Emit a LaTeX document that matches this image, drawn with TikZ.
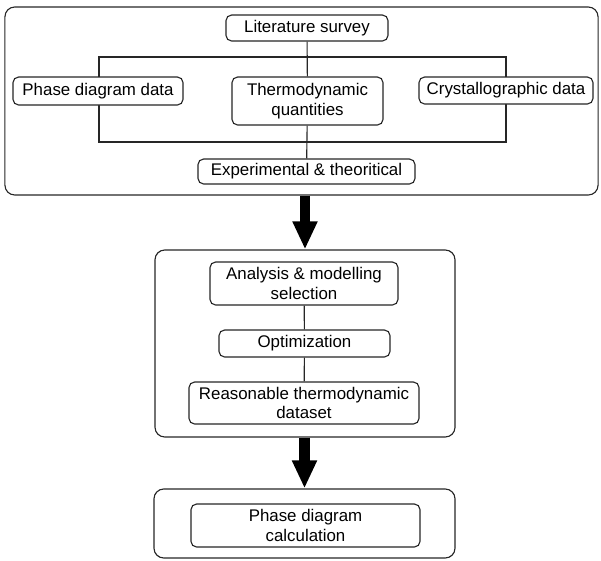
\documentclass[tikz,border=0pt]{standalone}
\usepackage{fontspec}
\setmainfont{Liberation Sans}
\usetikzlibrary{
    arrows.meta,
    shapes,
    positioning,
    calc
}
\tikzset{%
    % Specifications for style of nodes:
    base/.style = {
        rectangle, rounded corners=4pt, draw=black!85, line width=0.8pt,
        text centered, font=\fontsize{12}{14}\selectfont,
        fill=white, align=center, inner sep=1.5pt
    },
    frame/.style = {base, rounded corners=7pt, fill=none},
    link/.style = {draw=black!85, line width=0.8pt},
    bigarrow/.style = {
        draw=black, line width=0.25cm,
        -{Triangle[width=0.58cm,length=0.7cm]}
    }
}

\begin{document}
\begin{tikzpicture}[x=0.025cm, y=-0.025cm]
    \useasboundingbox (0,0) rectangle (601,561);
    % the three stages
    \node[frame, minimum width=14.825cm, minimum height=4.7cm] (survey) at (301.5,101) {};
    \node[frame, minimum width=7.5cm, minimum height=4.675cm] (process) at (305,343.5) {};
    \node[frame, minimum width=7.525cm, minimum height=1.725cm] (output) at (304.5,523.5) {};
    % bracket behind the data nodes
    \coordinate (bracketNW) at (99,57);
    \coordinate (bracketSE) at (506,142);
    \draw[link] (bracketNW) rectangle (bracketSE);
    % first stage
    \node[base, minimum width=4.05cm, minimum height=0.65cm] (lit) at (307,28) {Literature survey};
    \node[base, minimum width=4.25cm, minimum height=0.7cm] (phase) at (98,91) {Phase diagram data};
    \node[base, minimum width=3.775cm, minimum height=1.2cm] (thermo) at (307.5,101) {Thermodynamic\\quantities};
    \node[base, minimum width=4.35cm, minimum height=0.675cm] (crys) at (506,90.5) {Crystallographic data};
    \node[base, minimum width=5.425cm, minimum height=0.625cm] (exp) at (306.5,171.5) {Experimental \& theoritical};
    % second stage
    \node[base, minimum width=4.7cm, minimum height=1.075cm] (anal) at (304,283.5) {Analysis \& modelling\\selection};
    \node[base, minimum width=4.275cm, minimum height=0.675cm] (opt) at (304.5,343.5) {Optimization};
    \node[base, minimum width=5.75cm, minimum height=1.05cm] (reas) at (304,403) {Reasonable thermodynamic\\dataset};
    % third stage
    \node[base, minimum width=5.725cm, minimum height=1.075cm] (calc) at (305.5,525.5) {Phase diagram\\calculation};
    % connectors
    \draw[link] (lit) -- (thermo);
    \draw[link] (thermo) -- (exp);
    \draw[link] (anal) -- (opt);
    \draw[link] (opt) -- (reas);
    \draw[bigarrow] (process.north |- survey.south) -- (process.north);
    \draw[bigarrow] (output.north |- process.south) -- (output.north);
\end{tikzpicture}
\end{document}
